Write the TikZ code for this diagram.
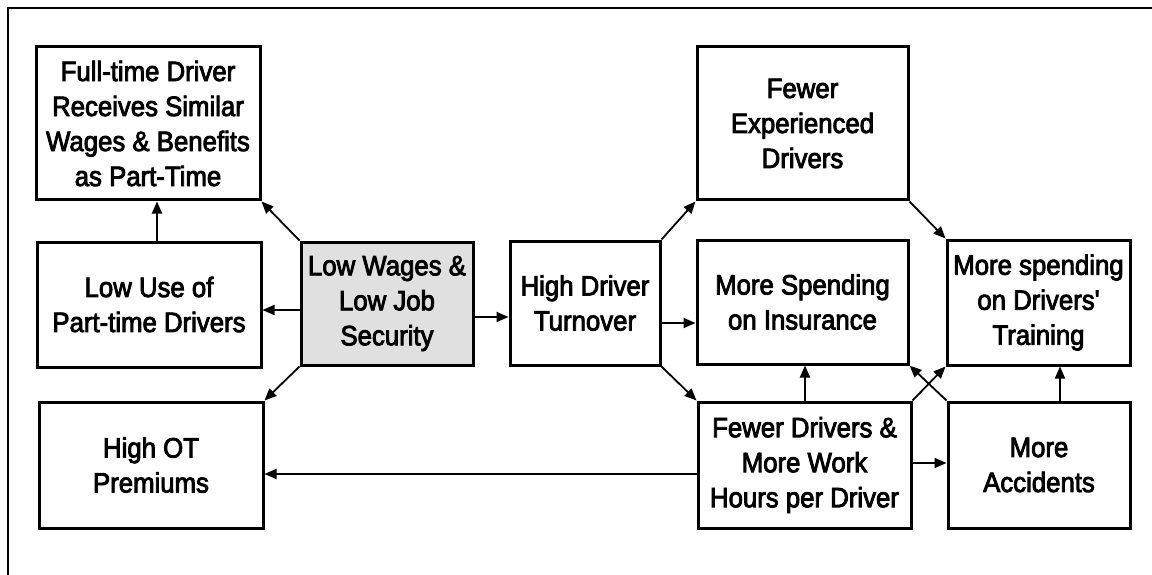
\documentclass[tikz,border=0pt]{standalone}
\usepackage{fontspec}
\newfontfamily\hv[FakeBold=3,FakeStretch=0.92]{Liberation Sans}
\usetikzlibrary{arrows.meta}
\tikzset{
  box/.style={draw, line width=3pt, rectangle, inner sep=0pt, align=center,
    font=\hv\fontsize{28}{35}\selectfont},
  arr/.style={line width=1.8pt, -{Triangle[length=12pt,width=10pt]}},
  frame/.style={line width=2pt}
}
\begin{document}
\begin{tikzpicture}[x=1pt,y=-1pt]
\useasboundingbox (0,0) rectangle (1152,575);
\coordinate (fr1) at (8,575);
\coordinate (fr2) at (8,8);
\coordinate (fr3) at (1152,8);
\draw[frame] (fr1) -- (fr2) -- (fr3);

\node[box, minimum width=224pt, minimum height=153pt] (ft) at (148,123.5)
  {Full-time Driver\\Receives Similar\\Wages \& Benefits\\as Part-Time};
\node[box, minimum width=224pt, minimum height=125pt] (lu) at (149,304.5)
  {Low Use of\\Part-time Drivers};
\node[box, minimum width=224pt, minimum height=126pt] (ot) at (151,465)
  {High OT\\Premiums};
\node[box, fill=black!12, minimum width=172pt, minimum height=123pt] (lw) at (387,303.5)
  {Low Wages \&\\Low Job\\Security};
\node[box, minimum width=150pt, minimum height=124pt] (ht) at (585,303)
  {High Driver\\Turnover};
\node[box, minimum width=211pt, minimum height=153pt] (fe) at (802.5,123.5)
  {Fewer\\Experienced\\Drivers};
\node[box, minimum width=211pt, minimum height=124pt] (ins) at (802.5,302)
  {More Spending\\on Insurance};
\node[box, minimum width=183pt, minimum height=125pt] (tr) at (1038.5,302.5)
  {More spending\\on Drivers'\\Training};
\node[box, minimum width=213pt, minimum height=126pt] (fd) at (804.5,465)
  {Fewer Drivers \&\\More Work\\Hours per Driver};
\node[box, minimum width=182pt, minimum height=126pt] (ac) at (1039,465)
  {More\\Accidents};

\draw[arr] (lu.north -| 157,0) -- (ft.south -| 157,0);
\draw[arr] (lw.north west) -- (ft.south east);
\draw[arr] (lw.west |- 0,310) -- (lu.east |- 0,310);
\draw[arr] (lw.south west) -- (ot.north east);
\draw[arr] (lw.east |- 0,317) -- (ht.west |- 0,317);
\draw[arr] (ht.north east) -- (fe.south west);
\draw[arr] (ht.east |- 0,323) -- (ins.west |- 0,323);
\draw[arr] (ht.south east) -- (fd.north west);
\draw[arr] (fe.south east) -- (tr.north west);
\draw[arr] (fd.north -| 805,0) -- (ins.south -| 805,0);
\draw[arr] (fd.north east) -- (tr.south west);
\draw[arr] (ac.north west) -- (ins.south east);
\draw[arr] (ac.north -| 1060,0) -- (tr.south -| 1060,0);
\draw[arr] (fd.east |- 0,463) -- (ac.west |- 0,463);
\draw[arr] (fd.west |- 0,474) -- (ot.east |- 0,474);
\end{tikzpicture}
\end{document}
